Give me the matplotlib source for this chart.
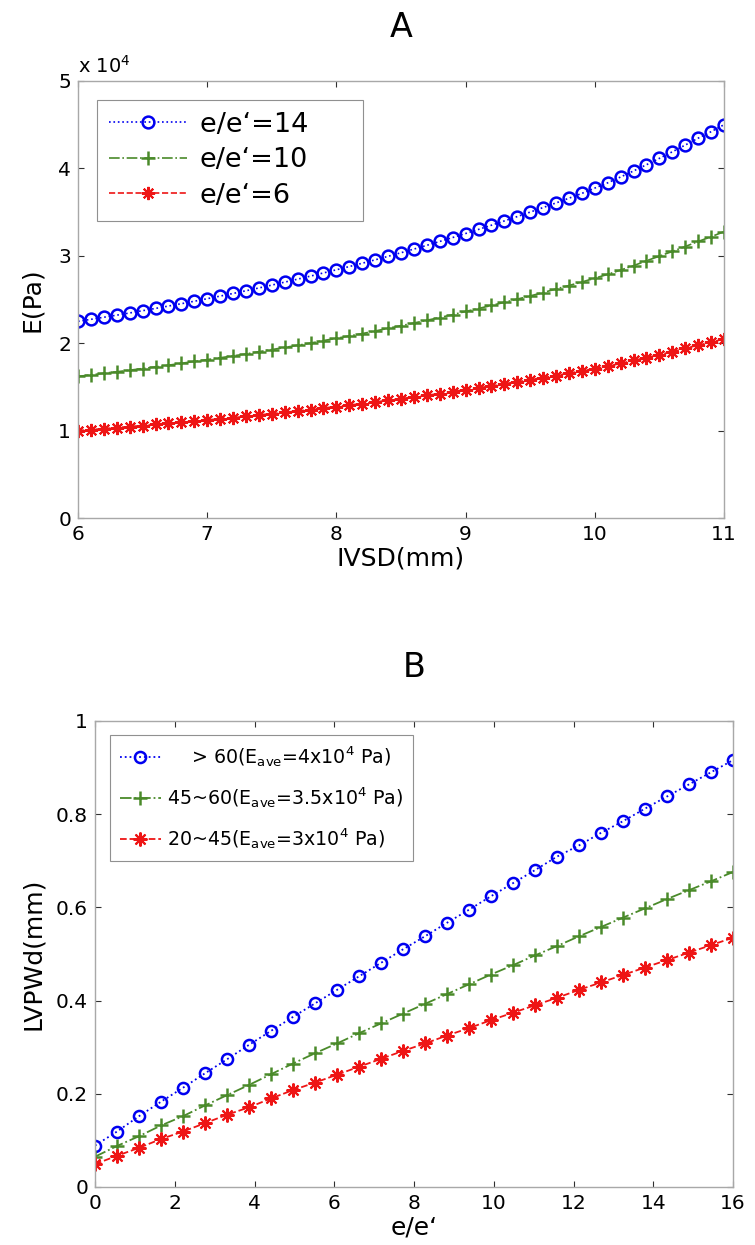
import numpy as np
import matplotlib
matplotlib.use("Agg")
import matplotlib.pyplot as plt
from matplotlib.ticker import FuncFormatter

plt.rcParams['font.family'] = ['DejaVu Sans']
plt.rcParams['mathtext.default'] = 'regular'

# ---------------- Panel A data ----------------
ivsd = np.linspace(6, 11, 51)
E14 = [2.250, 2.273, 2.297, 2.321, 2.346, 2.372, 2.398, 2.425, 2.452, 2.480,
       2.509, 2.539, 2.569, 2.600, 2.632, 2.665, 2.699, 2.733, 2.768, 2.804,
       2.840, 2.877, 2.915, 2.954, 2.994, 3.035, 3.077, 3.120, 3.164, 3.209,
       3.255, 3.302, 3.350, 3.399, 3.449, 3.500, 3.552, 3.605, 3.659, 3.714,
       3.775, 3.835, 3.902, 3.971, 4.042, 4.115, 4.190, 4.267, 4.346, 4.420,
       4.500]
E10 = [1.620, 1.637, 1.656, 1.673, 1.691, 1.710, 1.729, 1.748, 1.770, 1.791,
       1.812, 1.833, 1.855, 1.877, 1.903, 1.927, 1.951, 1.976, 2.001, 2.030,
       2.056, 2.083, 2.110, 2.139, 2.171, 2.200, 2.231, 2.262, 2.294, 2.327,
       2.363, 2.397, 2.432, 2.468, 2.504, 2.541, 2.579, 2.621, 2.660, 2.700,
       2.744, 2.788, 2.837, 2.887, 2.943, 2.996, 3.050, 3.106, 3.164, 3.218,
       3.276]
E6 = [1.000, 1.011, 1.022, 1.035, 1.046, 1.058, 1.070, 1.082, 1.094, 1.108,
      1.122, 1.135, 1.148, 1.162, 1.179, 1.194, 1.209, 1.224, 1.240, 1.259,
      1.275, 1.292, 1.309, 1.326, 1.347, 1.366, 1.385, 1.404, 1.424, 1.447,
      1.468, 1.489, 1.511, 1.536, 1.559, 1.582, 1.606, 1.629, 1.658, 1.682,
      1.710, 1.737, 1.768, 1.803, 1.835, 1.868, 1.902, 1.941, 1.977, 2.011,
      2.048]
E_scale = 1e4
labels_A = ["e/e\u2018=14", "e/e\u2018=10", "e/e\u2018=6"]

# ---------------- Panel B data ----------------
ratio = np.linspace(0, 16, 30)
L60 = [0.089, 0.119, 0.152, 0.183, 0.213, 0.244, 0.274, 0.305, 0.335, 0.365,
       0.394, 0.423, 0.452, 0.481, 0.510, 0.538, 0.567, 0.595, 0.624, 0.652,
       0.680, 0.709, 0.733, 0.760, 0.785, 0.812, 0.838, 0.864, 0.890, 0.916]
L45 = [0.065, 0.088, 0.109, 0.132, 0.152, 0.175, 0.197, 0.219, 0.242, 0.265,
       0.287, 0.308, 0.330, 0.351, 0.372, 0.393, 0.414, 0.435, 0.456, 0.476,
       0.497, 0.517, 0.538, 0.558, 0.578, 0.598, 0.618, 0.637, 0.656, 0.676]
L20 = [0.049, 0.067, 0.084, 0.103, 0.119, 0.137, 0.155, 0.171, 0.190, 0.208,
       0.224, 0.241, 0.258, 0.275, 0.292, 0.308, 0.325, 0.341, 0.358, 0.374,
       0.390, 0.406, 0.423, 0.439, 0.455, 0.471, 0.487, 0.503, 0.519, 0.535]
labels_B = ["    > 60(E$_{ave}$=4x10$^4$ Pa)",
            "45~60(E$_{ave}$=3.5x10$^4$ Pa)",
            "20~45(E$_{ave}$=3x10$^4$ Pa)"]

BLUE = '#0000f0'
GREEN = '#4a8a2a'
RED = '#ee1515'
ASTER = (8, 2, 0)

fig = plt.figure(figsize=(7.55, 12.45), dpi=100)
W, H = 755, 1245


def px_axes(l, t, r, b):
    return fig.add_axes([l / W, 1 - b / H, (r - l) / W, (b - t) / H])


def style(ax):
    for s in ax.spines.values():
        s.set_color('#a8a8a8')
        s.set_linewidth(1.0)
    ax.tick_params(direction='in', length=4, width=0.8, color='#303030',
                   top=True, right=True, labelsize=14.5, pad=5)


# ---------------- Panel A ----------------
axA = px_axes(78, 81, 724, 518)
axA.plot(ivsd, np.array(E14) * E_scale, ls=':', color=BLUE, lw=1.2,
         marker='o', ms=8.5, mfc='none', mec=BLUE, mew=1.8, label=labels_A[0])
axA.plot(ivsd, np.array(E10) * E_scale, ls='-.', color=GREEN, lw=1.2,
         marker='+', ms=9.5, mec=GREEN, mew=1.8, label=labels_A[1])
axA.plot(ivsd, np.array(E6) * E_scale, ls='--', color=RED, lw=1.2,
         marker=ASTER, ms=9.5, mec=RED, mew=1.5, label=labels_A[2])
axA.set_xlim(6, 11)
axA.set_ylim(0, 5 * E_scale)
axA.set_xticks(range(6, 12))
axA.set_yticks(np.arange(0, 6) * E_scale)
axA.yaxis.set_major_formatter(FuncFormatter(lambda v, p: f"{v / E_scale:g}"))
style(axA)
axA.set_xlabel("IVSD(mm)", fontsize=18, labelpad=2)
axA.set_ylabel("E(Pa)", fontsize=18, labelpad=10)
axA.set_title("A", fontsize=24, pad=32)
axA.text(0.0, 1.01, "x 10$^4$", transform=axA.transAxes, fontsize=14,
         ha='left', va='bottom')
# trailing blanks reproduce the extra right padding of the reference legend box
legA = axA.legend([l + "     " if i == 0 else l for i, l in enumerate(labels_A)],
                  loc='upper left', bbox_to_anchor=(0.029, 0.957),
                  borderaxespad=0, fontsize=19.5, numpoints=1, handlelength=2.9,
                  handletextpad=0.45, labelspacing=0.35, borderpad=0.45,
                  fancybox=False, framealpha=1, edgecolor='#909090')
legA.get_frame().set_linewidth(0.8)

# ---------------- Panel B ----------------
axB = px_axes(95, 721, 733, 1187)
axB.plot(ratio, L60, ls=':', color=BLUE, lw=1.3,
         marker='o', ms=8, mfc='none', mec=BLUE, mew=1.8, label=labels_B[0])
axB.plot(ratio, L45, ls='-.', color=GREEN, lw=1.3,
         marker='+', ms=10, mec=GREEN, mew=1.8, label=labels_B[1])
axB.plot(ratio, L20, ls='--', color=RED, lw=1.3,
         marker=ASTER, ms=10, mec=RED, mew=1.5, label=labels_B[2])
axB.set_xlim(0, 16)
axB.set_ylim(0, 1)
axB.set_xticks(range(0, 17, 2))
axB.set_yticks([0, 0.2, 0.4, 0.6, 0.8, 1])
axB.yaxis.set_major_formatter(FuncFormatter(lambda v, p: f"{v:g}"))
style(axB)
axB.set_xlabel("e/e\u2018", fontsize=18, labelpad=2)
axB.set_ylabel("LVPWd(mm)", fontsize=18, labelpad=8)
axB.set_title("B", fontsize=24, pad=32)
legB = axB.legend(loc='upper left', bbox_to_anchor=(0.0235, 0.970),
                  borderaxespad=0, fontsize=13.7, numpoints=1, handlelength=2.2,
                  handletextpad=0.3, labelspacing=0.85, borderpad=0.5,
                  fancybox=False, framealpha=1, edgecolor='#909090')
legB.get_frame().set_linewidth(0.8)

fig.savefig("out.png", dpi=100)
